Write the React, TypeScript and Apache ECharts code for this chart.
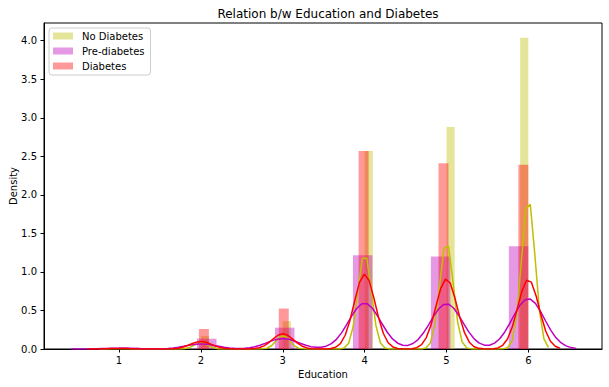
import React, { useEffect, useRef } from "react";
import * as echarts from "echarts";

// ---- data ----
const educationLevels = [1, 2, 3, 4, 5, 6];
const noDiabetesDensity = [0.01, 0.17, 0.36, 2.57, 2.88, 4.04];
const preDiabetesDensity = [0.02, 0.134, 0.277, 1.215, 1.2, 1.333];
const diabetesDensity = [0.02, 0.26, 0.525, 2.57, 2.41, 2.39];
const noDiabetesBins = 50;
const preDiabetesBins = 21;
const diabetesBins = 41;
const noDiabetesBandwidth = 0.082;
const preDiabetesBandwidth = 0.195;
const diabetesBandwidth = 0.129;
const seriesNames = ["No Diabetes", "Pre-diabetes", "Diabetes"];
const xTicks = [1, 2, 3, 4, 5, 6];
const yTicks = [0, 0.5, 1, 1.5, 2, 2.5, 3, 3.5, 4];
const xMin = 0.083;
const xMax = 6.9;

const lo = Math.min(...educationLevels);
const hi = Math.max(...educationLevels);

function histBars(density: number[], bins: number) {
  const w = (hi - lo) / bins;
  return educationLevels.map((v, i) => {
    let k = Math.floor((v - lo) / w + 1e-9);
    if (k > bins - 1) k = bins - 1;
    const x0 = lo + k * w;
    return [x0, x0 + w, density[i]];
  });
}

function kdeLine(density: number[], bins: number, h: number) {
  const w = (hi - lo) / bins;
  const weights = density.map((d) => d * w);
  const total = weights.reduce((a, b) => a + b, 0);
  const start = lo - 3 * h;
  const end = hi + 3 * h;
  const n = 100;
  const pts: number[][] = [];
  for (let j = 0; j < n; j++) {
    const x = start + ((end - start) * j) / (n - 1);
    let y = 0;
    educationLevels.forEach((v, i) => {
      const z = (x - v) / h;
      y += (weights[i] / total) * Math.exp(-0.5 * z * z) / (h * Math.sqrt(2 * Math.PI));
    });
    pts.push([x, y]);
  }
  return pts;
}

function histSeries(name: string, data: number[][], fill: string) {
  return {
    type: "custom",
    name,
    data,
    encode: { x: [0, 1], y: 2 },
    itemStyle: { color: fill },
    renderItem: (params: any, api: any) => {
      const p0 = api.coord([api.value(0), api.value(2)]);
      const p1 = api.coord([api.value(1), 0]);
      return {
        type: "rect",
        shape: { x: p0[0], y: p0[1], width: p1[0] - p0[0], height: p1[1] - p0[1] },
        style: { fill },
      };
    },
  };
}

function lineSeries(name: string, data: number[][], color: string) {
  return {
    type: "line",
    name,
    data,
    showSymbol: false,
    symbol: "none",
    lineStyle: { color, width: 1.5 },
    itemStyle: { color },
  };
}

export default function App() {
  const ref = useRef<HTMLDivElement>(null);
  useEffect(() => {
    if (!ref.current) return;
    const chart = echarts.init(ref.current, undefined, { renderer: "svg" });
    const font = "DejaVu Sans";
    chart.setOption({
      animation: false,
      backgroundColor: "#ffffff",
      title: {
        text: "Relation b/w Education and Diabetes",
        left: 323,
        textAlign: "center",
        top: 3,
        textStyle: { fontFamily: font, fontSize: 12, fontWeight: "normal", color: "#000" },
      },
      legend: {
        data: seriesNames,
        orient: "vertical",
        left: 49,
        top: 28,
        icon: "rect",
        itemWidth: 20,
        itemHeight: 7,
        itemGap: 5,
        padding: [3, 6, 4, 4],
        borderColor: "#cccccc",
        borderWidth: 1,
        borderRadius: 3,
        backgroundColor: "rgba(255,255,255,0.8)",
        textStyle: { fontFamily: font, fontSize: 10, color: "#000", padding: [0, 0, 0, 4] },
      },
      grid: {
        left: 44,
        right: 7,
        top: 23,
        bottom: 38,
        outerBoundsMode: "none",
        containLabel: false,
        show: true,
        borderColor: "#000",
        borderWidth: 1,
        backgroundColor: "transparent",
      },
      xAxis: {
        type: "value",
        scale: true,
        min: xMin,
        max: xMax,
        name: "Education",
        nameLocation: "middle",
        nameGap: 20,
        nameMoveOverlap: false,
        nameTextStyle: { fontFamily: font, fontSize: 10, color: "#000" },
        splitLine: { show: false },
        axisLine: { show: true, lineStyle: { color: "#000", width: 1 } },
        axisTick: { show: true, customValues: xTicks, length: 3.5, lineStyle: { color: "#000" } },
        axisLabel: {
          customValues: xTicks,
          margin: 6,
          fontFamily: font,
          fontSize: 10,
          color: "#000",
          formatter: (v: number) => String(Math.round(v)),
        },
      },
      yAxis: {
        type: "value",
        min: 0,
        max: 4.23,
        name: "Density",
        nameLocation: "middle",
        nameGap: 26,
        nameMoveOverlap: false,
        nameTextStyle: { fontFamily: font, fontSize: 10, color: "#000" },
        splitLine: { show: false },
        axisLine: { show: true, lineStyle: { color: "#000", width: 1 } },
        axisTick: { show: true, customValues: yTicks, length: 3.5, lineStyle: { color: "#000" } },
        axisLabel: {
          customValues: yTicks,
          margin: 7,
          fontFamily: font,
          fontSize: 10,
          color: "#000",
          formatter: (v: number) => v.toFixed(1),
        },
      },
      series: [
        histSeries(seriesNames[0], histBars(noDiabetesDensity, noDiabetesBins), "rgba(191,191,0,0.4)"),
        lineSeries("kde0", kdeLine(noDiabetesDensity, noDiabetesBins, noDiabetesBandwidth), "#bfbf00"),
        histSeries(seriesNames[1], histBars(preDiabetesDensity, preDiabetesBins), "rgba(191,0,191,0.4)"),
        lineSeries("kde1", kdeLine(preDiabetesDensity, preDiabetesBins, preDiabetesBandwidth), "#bf00bf"),
        histSeries(seriesNames[2], histBars(diabetesDensity, diabetesBins), "rgba(255,0,0,0.4)"),
        lineSeries("kde2", kdeLine(diabetesDensity, diabetesBins, diabetesBandwidth), "#ff0000"),
      ],
    });
    return () => chart.dispose();
  }, []);
  return (
    <div
      ref={ref}
      style={{ position: "fixed", left: 0, top: 0, width: 609, height: 387 }}
    />
  );
}
